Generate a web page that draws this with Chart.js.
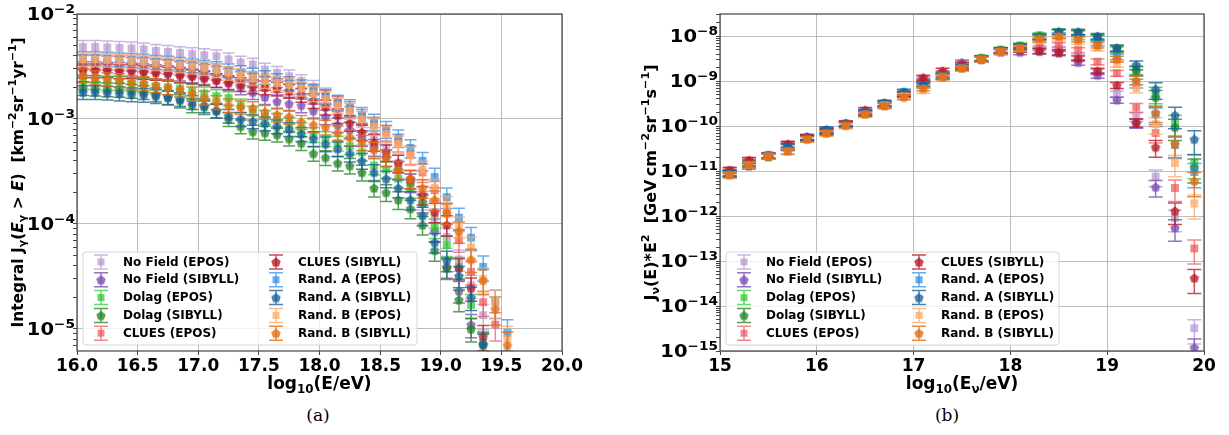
<!DOCTYPE html>
<html lang="en">
  <head>
    <meta charset="UTF-8" />
    <title>Integral photon flux and neutrino spectrum</title>
    <script src="https://cdn.jsdelivr.net/npm/chart.js"></script>
    <style>
      body { margin: 0; background: #fff; width: 1229px; height: 435px; position: relative; overflow: hidden; }
      #leftBox { position: absolute; left: 0; top: 0; width: 600px; height: 400px; }
      #rightBox { position: absolute; left: 620px; top: 0; width: 609px; height: 400px; }
      .caption { position: absolute; top: 405px; width: 60px; text-align: center;
        font-family: "DejaVu Serif", "Liberation Serif", serif; font-size: 17px; color: #000; }
    </style>
  </head>

  <body>
    <div id="leftBox"><canvas id="integralChart" width="600" height="400"></canvas></div>
    <div id="rightBox"><canvas id="nuChart" width="609" height="400"></canvas></div>
    <div class="caption" style="left: 288px">(a)</div>
    <div class="caption" style="left: 917px">(b)</div>

    <script>
      // ---- series names / styles ----
      const names = [
        "No Field (EPOS)", "No Field (SIBYLL)", "Dolag (EPOS)", "Dolag (SIBYLL)", "CLUES (EPOS)",
        "CLUES (SIBYLL)", "Rand. A (EPOS)", "Rand. A (SIBYLL)", "Rand. B (EPOS)", "Rand. B (SIBYLL)",
      ];
      const markers = ["square", "pentagon", "square", "pentagon", "square", "pentagon", "square", "pentagon", "square", "pentagon"];
      const colors = [
        "rgba(180,150,210,0.7)", "rgba(128,80,180,0.8)", "rgba(40,200,40,0.7)", "rgba(30,130,30,0.75)",
        "rgba(235,85,90,0.7)", "rgba(185,25,40,0.78)", "rgba(40,140,225,0.7)", "rgba(25,95,155,0.78)",
        "rgba(255,170,100,0.75)", "rgba(225,110,20,0.8)",
      ];

      // ---- (a) integral photon flux, km^-2 sr^-1 yr^-1 ----
      const logEInt = [16.05, 16.15, 16.25, 16.35, 16.45, 16.55, 16.65, 16.75, 16.85, 16.95, 17.05, 17.15,
        17.25, 17.35, 17.45, 17.55, 17.65, 17.75, 17.85, 17.95, 18.05, 18.15, 18.25, 18.35,
        18.45, 18.55, 18.65, 18.75, 18.85, 18.95, 19.05, 19.15, 19.25, 19.35, 19.45, 19.55];
      const intNoFieldEpos = [4.85e-3, 4.85e-3, 4.8e-3, 4.75e-3, 4.7e-3, 4.6e-3, 4.45e-3, 4.35e-3, 4.25e-3, 4.15e-3, 4.05e-3, 3.95e-3,
        3.7e-3, 3.45e-3, 3.3e-3, 2.95e-3, 2.75e-3, 2.55e-3, 2.3e-3, 2.0e-3, 1.7e-3, 1.4e-3, 1.12e-3, 9.0e-4,
        7.0e-4, 5.3e-4, 3.8e-4, 2.5e-4, 1.7e-4, 1.15e-4, 7.5e-5, 4.6e-5, 2.6e-5, 1.35e-5, null, null];
      const intNoFieldSib = [3.05e-3, 3.05e-3, 3.0e-3, 3.0e-3, 2.95e-3, 2.9e-3, 2.85e-3, 2.8e-3, 2.7e-3, 2.6e-3, 2.5e-3, 2.35e-3,
        2.2e-3, 2.0e-3, 1.8e-3, 1.62e-3, 1.47e-3, 1.4e-3, 1.35e-3, 1.2e-3, 1.05e-3, 8.8e-4, 7.9e-4, 6.6e-4,
        5.4e-4, 4.3e-4, 3.3e-4, 2.5e-4, 1.6e-4, 8.5e-5, 3.9e-5, 2.3e-5, 1.1e-5, null, null, null];
      const intDolagEpos = [2.25e-3, 2.25e-3, 2.2e-3, 2.2e-3, 2.15e-3, 2.1e-3, 2.05e-3, 2.0e-3, 1.95e-3, 1.85e-3, 1.75e-3, 1.65e-3,
        1.58e-3, 1.35e-3, 1.15e-3, 1.05e-3, 9.8e-4, 9.0e-4, 8.0e-4, 7.1e-4, 6.5e-4, 5.9e-4, 5.5e-4, 4.8e-4,
        3.6e-4, 3.3e-4, 2.7e-4, 2.2e-4, 1.55e-4, 9.2e-5, 6.3e-5, 3.9e-5, 1.7e-5, 7.4e-6, null, null];
      const intDolagSib = [1.97e-3, 1.95e-3, 1.92e-3, 1.9e-3, 1.85e-3, 1.8e-3, 1.72e-3, 1.62e-3, 1.5e-3, 1.35e-3, 1.3e-3, 1.2e-3,
        1.0e-3, 8.5e-4, 7.6e-4, 7.4e-4, 7.1e-4, 6.5e-4, 5.9e-4, 4.7e-4, 4.3e-4, 3.8e-4, 3.6e-4, 3.1e-4,
        2.2e-4, 2.0e-4, 1.7e-4, 1.4e-4, 9.8e-5, 5.6e-5, 3.8e-5, 1.9e-5, 1.0e-5, 7.0e-6, null, null];
      const intCluesEpos = [3.5e-3, 3.5e-3, 3.45e-3, 3.4e-3, 3.35e-3, 3.3e-3, 3.2e-3, 3.15e-3, 3.05e-3, 2.95e-3, 2.85e-3, 2.75e-3,
        2.6e-3, 2.45e-3, 2.35e-3, 2.2e-3, 2.1e-3, 2.0e-3, 1.9e-3, 1.78e-3, 1.62e-3, 1.42e-3, 1.25e-3, 1.05e-3,
        8.8e-4, 7.4e-4, 6.0e-4, 4.6e-4, 3.1e-4, 2.1e-4, 1.3e-4, 7.0e-5, 3.5e-5, 1.8e-5, 1.1e-5, null];
      const intCluesSib = [2.9e-3, 2.9e-3, 2.9e-3, 2.85e-3, 2.85e-3, 2.8e-3, 2.75e-3, 2.7e-3, 2.6e-3, 2.55e-3, 2.45e-3, 2.35e-3,
        2.25e-3, 2.15e-3, 2.05e-3, 2.0e-3, 1.95e-3, 1.85e-3, 1.7e-3, 1.5e-3, 1.3e-3, 1.08e-3, 9.2e-4, 7.5e-4,
        6.0e-4, 4.8e-4, 3.8e-4, 2.7e-4, 1.9e-4, 1.3e-4, 9.8e-5, 3.8e-5, 2.45e-5, 8.5e-6, null, null];
      const intRandAEpos = [3.8e-3, 3.8e-3, 3.75e-3, 3.7e-3, 3.65e-3, 3.6e-3, 3.5e-3, 3.45e-3, 3.35e-3, 3.25e-3, 3.15e-3, 3.05e-3,
        2.9e-3, 2.8e-3, 2.65e-3, 2.5e-3, 2.35e-3, 2.2e-3, 2.05e-3, 1.85e-3, 1.65e-3, 1.45e-3, 1.3e-3, 1.1e-3,
        9.4e-4, 8.0e-4, 6.6e-4, 5.3e-4, 4.0e-4, 2.8e-4, 1.8e-4, 1.15e-4, 7.4e-5, 3.9e-5, 1.8e-5, 9.2e-6];
      const intRandASib = [1.8e-3, 1.8e-3, 1.78e-3, 1.75e-3, 1.72e-3, 1.7e-3, 1.65e-3, 1.6e-3, 1.55e-3, 1.45e-3, 1.35e-3, 1.2e-3,
        1.07e-3, 1.0e-3, 9.5e-4, 9.1e-4, 8.5e-4, 8.0e-4, 7.2e-4, 6.5e-4, 5.8e-4, 5.2e-4, 4.7e-4, 4.0e-4,
        3.1e-4, 2.7e-4, 2.2e-4, 1.7e-4, 1.2e-4, 6.7e-5, 4.5e-5, 3.2e-5, 2.0e-5, 7.2e-6, null, null];
      const intRandBEpos = [3.7e-3, 3.7e-3, 3.65e-3, 3.6e-3, 3.55e-3, 3.5e-3, 3.4e-3, 3.35e-3, 3.25e-3, 3.15e-3, 3.05e-3, 2.9e-3,
        2.75e-3, 2.6e-3, 2.45e-3, 2.3e-3, 2.2e-3, 2.1e-3, 1.95e-3, 1.75e-3, 1.55e-3, 1.35e-3, 1.2e-3, 1.0e-3,
        8.5e-4, 7.2e-4, 5.8e-4, 4.5e-4, 3.3e-4, 2.2e-4, 1.5e-4, 9.5e-5, 6.0e-5, 3.0e-5, 1.8e-5, 8.0e-6];
      const intRandBSib = [2.6e-3, 2.5e-3, 2.4e-3, 2.35e-3, 2.25e-3, 2.2e-3, 2.1e-3, 2.0e-3, 1.9e-3, 1.75e-3, 1.6e-3, 1.45e-3,
        1.35e-3, 1.3e-3, 1.27e-3, 1.17e-3, 1.1e-3, 1.05e-3, 9.4e-4, 8.8e-4, 8.4e-4, 7.4e-4, 6.7e-4, 6.0e-4,
        5.1e-4, 4.3e-4, 3.3e-4, 2.7e-4, 2.2e-4, 1.7e-4, 1.27e-4, 8.5e-5, 4.6e-5, 2.9e-5, 1.55e-5, 7.0e-6];
      // relative error per energy bin
      const intErr = [0.15, 0.15, 0.15, 0.15, 0.15, 0.15, 0.15, 0.15, 0.15, 0.15, 0.15, 0.15,
        0.15, 0.15, 0.15, 0.15, 0.15, 0.15, 0.15, 0.16, 0.16, 0.16, 0.17, 0.17,
        0.18, 0.18, 0.19, 0.2, 0.2, 0.21, 0.22, 0.23, 0.25, 0.27, 0.3, 0.33];

      // ---- (b) neutrino flux * E^2, GeV cm^-2 sr^-1 s^-1 ----
      const logENu = [15.1, 15.3, 15.5, 15.7, 15.9, 16.1, 16.3, 16.5, 16.7, 16.9, 17.1, 17.3, 17.5,
        17.7, 17.9, 18.1, 18.3, 18.5, 18.7, 18.9, 19.1, 19.3, 19.5, 19.7, 19.9];
      const nuNoFieldEpos = [9.5e-12, 1.5e-11, 2.2e-11, 3.3e-11, 5.6e-11, 7.5e-11, 1.1e-10, 2.0e-10, 3.0e-10, 5.0e-10, 9.5e-10, 1.4e-9, 2.4e-9,
        3.1e-9, 4.6e-9, 5.0e-9, 5.4e-9, 5.2e-9, 3.4e-9, 1.6e-9, 5.2e-10, 1.6e-10, 7.5e-12, 9.0e-13, 3.2e-15];
      const nuNoFieldSib = [9.3e-12, 1.55e-11, 2.2e-11, 3.5e-11, 5.8e-11, 7.3e-11, 1.15e-10, 2.1e-10, 3.1e-10, 5.1e-10, 1.0e-9, 1.45e-9, 2.6e-9,
        3.0e-9, 4.4e-9, 4.4e-9, 4.6e-9, 4.2e-9, 2.6e-9, 1.35e-9, 3.8e-10, 1.15e-10, 4.4e-12, 5.5e-13, 1.2e-15];
      const nuDolagEpos = [8.5e-12, 1.4e-11, 2.1e-11, 3.6e-11, 5.3e-11, 7.7e-11, 1.1e-10, 1.9e-10, 3.0e-10, 5.0e-10, 8.5e-10, 1.3e-9, 2.0e-9,
        3.3e-9, 5.0e-9, 6.2e-9, 1.05e-8, 1.2e-8, 1.15e-8, 9.0e-9, 5.0e-9, 1.8e-9, 5.2e-10, 1.15e-10, 1.5e-11];
      const nuDolagSib = [8.8e-12, 1.45e-11, 2.15e-11, 3.9e-11, 5.5e-11, 7.6e-11, 1.05e-10, 1.9e-10, 3.1e-10, 5.2e-10, 8.8e-10, 1.35e-9, 2.1e-9,
        3.2e-9, 4.8e-9, 6.0e-9, 1.0e-8, 1.25e-8, 1.2e-8, 9.5e-9, 5.3e-9, 1.7e-9, 4.4e-10, 9.5e-11, 1.2e-11];
      const nuCluesEpos = [1.05e-11, 1.7e-11, 2.3e-11, 3.7e-11, 5.6e-11, 8.0e-11, 1.15e-10, 2.1e-10, 2.9e-10, 4.9e-10, 1.1e-9, 1.5e-9, 2.2e-9,
        3.1e-9, 4.8e-9, 5.6e-9, 6.5e-9, 6.3e-9, 4.9e-9, 2.7e-9, 1.5e-9, 2.6e-10, 7.0e-11, 4.2e-12, 1.9e-13];
      const nuCluesSib = [1.05e-11, 1.75e-11, 2.25e-11, 4.0e-11, 5.7e-11, 7.8e-11, 1.15e-10, 2.3e-10, 3.0e-10, 5.2e-10, 1.2e-9, 1.7e-9, 2.3e-9,
        3.2e-9, 4.8e-9, 5.0e-9, 4.7e-9, 4.4e-9, 3.2e-9, 1.7e-9, 8.1e-10, 1.2e-10, 3.4e-11, 1.3e-12, 4.2e-14];
      const nuRandAEpos = [8.8e-12, 1.35e-11, 2.2e-11, 3.4e-11, 5.3e-11, 8.2e-11, 1.1e-10, 2.0e-10, 3.2e-10, 5.6e-10, 8.0e-10, 1.3e-9, 2.0e-9,
        3.0e-9, 4.7e-9, 5.8e-9, 9.5e-9, 1.05e-8, 9.5e-9, 7.0e-9, 3.5e-9, 9.0e-10, 1.8e-10, 3.8e-11, 9.5e-12];
      const nuRandASib = [9.0e-12, 1.3e-11, 2.1e-11, 3.5e-11, 5.4e-11, 8.4e-11, 1.1e-10, 2.0e-10, 3.3e-10, 5.8e-10, 8.2e-10, 1.25e-9, 2.0e-9,
        3.1e-9, 4.8e-9, 5.9e-9, 9.5e-9, 1.25e-8, 1.25e-8, 1.0e-8, 5.5e-9, 2.3e-9, 6.6e-10, 1.75e-10, 5.1e-11];
      const nuRandBEpos = [8.0e-12, 1.35e-11, 2.1e-11, 2.7e-11, 5.0e-11, 6.8e-11, 1.0e-10, 1.8e-10, 2.9e-10, 4.6e-10, 6.2e-10, 1.2e-9, 1.9e-9,
        3.0e-9, 4.5e-9, 5.3e-9, 8.0e-9, 9.0e-9, 7.5e-9, 5.5e-9, 2.4e-9, 7.0e-10, 1.1e-10, 1.5e-11, 1.9e-12];
      const nuRandBSib = [8.3e-12, 1.4e-11, 2.15e-11, 2.8e-11, 5.1e-11, 7.0e-11, 1.05e-10, 1.85e-10, 2.8e-10, 4.4e-10, 7.0e-10, 1.25e-9, 1.95e-9,
        3.1e-9, 4.6e-9, 5.5e-9, 9.0e-9, 1.0e-8, 8.5e-9, 6.3e-9, 3.1e-9, 1.05e-9, 2.0e-10, 4.0e-11, 6.0e-12];
      const nuErr = [0.15, 0.15, 0.13, 0.15, 0.13, 0.13, 0.13, 0.13, 0.13, 0.13, 0.13, 0.13, 0.13,
        0.13, 0.13, 0.13, 0.13, 0.13, 0.13, 0.14, 0.15, 0.22, 0.4, 0.5, 0.55];

      const intSeries = [intNoFieldEpos, intNoFieldSib, intDolagEpos, intDolagSib, intCluesEpos,
        intCluesSib, intRandAEpos, intRandASib, intRandBEpos, intRandBSib];
      const nuSeries = [nuNoFieldEpos, nuNoFieldSib, nuDolagEpos, nuDolagSib, nuCluesEpos,
        nuCluesSib, nuRandAEpos, nuRandASib, nuRandBEpos, nuRandBSib];

      const FONT = '"DejaVu Sans", sans-serif';
      const gridColor = "rgba(176,176,176,0.85)";
      const spineColor = "#444";

      // pentagon marker drawn once per colour
      function pentagon(color, r) {
        const c = document.createElement("canvas");
        const s = Math.ceil(r * 2 + 2);
        c.width = s;
        c.height = s;
        const g = c.getContext("2d");
        g.fillStyle = color;
        g.beginPath();
        for (let k = 0; k < 5; k++) {
          const a = -Math.PI / 2 + (k * 2 * Math.PI) / 5;
          g.lineTo(s / 2 + r * Math.cos(a), s / 2 + r * Math.sin(a) + r * 0.1);
        }
        g.closePath();
        g.fill();
        return c;
      }
      const pentImgs = colors.map((c) => pentagon(c, 5));

      function makeSets(xs, series, err) {
        return series.map((vals, i) => {
          const pts = [], lo = [], hi = [];
          vals.forEach((v, j) => {
            if (v == null) return;
            pts.push({ x: xs[j], y: v });
            lo.push(v * (1 - err[j]));
            hi.push(v * (1 + err[j]));
          });
          return {
            label: names[i],
            data: pts,
            errLo: lo,
            errHi: hi,
            order: 10 - i,
            backgroundColor: colors[i],
            borderColor: colors[i],
            borderWidth: 0,
            pointStyle: markers[i] === "square" ? "rect" : pentImgs[i],
            pointRadius: 5.6,
          };
        });
      }

      function logTicks(min, max) {
        const out = [];
        for (let e = Math.floor(Math.log10(min)); e <= Math.ceil(Math.log10(max)); e++) {
          for (let m = 1; m < 10; m++) {
            const v = m * Math.pow(10, e);
            if (v >= min * 0.999 && v <= max * 1.001) out.push({ value: v, major: m === 1 });
          }
        }
        return out;
      }

      function fontFor(k, size) {
        const small = k === "sup" || k === "sub";
        return (k === "it" ? "italic " : "") + "bold " + (small ? size * 0.7 : size) + "px " + FONT;
      }
      function richWidth(ctx, parts, size) {
        let w = 0;
        for (const [t, k] of parts) {
          ctx.font = fontFor(k, size);
          w += ctx.measureText(t).width;
        }
        return w;
      }
      function richDraw(ctx, parts, x, y, size) {
        let cx = x;
        for (const [t, k] of parts) {
          ctx.font = fontFor(k, size);
          const dy = k === "sup" ? -size * 0.42 : k === "sub" ? size * 0.22 : 0;
          ctx.fillText(t, cx, y + dy);
          cx += ctx.measureText(t).width;
        }
      }

      // error bars drawn just under each dataset's markers
      const errorBars = {
        id: "errorBars",
        beforeDatasetDraw(chart, args) {
          const ds = chart.data.datasets[args.index];
          const xs = chart.scales.x, ys = chart.scales.y, a = chart.chartArea;
          const cap = chart.options.plugins.decor.cap;
          const ctx = chart.ctx;
          ctx.save();
          ctx.beginPath();
          ctx.rect(a.left, a.top, a.right - a.left, a.bottom - a.top);
          ctx.clip();
          ctx.strokeStyle = ds.borderColor;
          ctx.lineWidth = 1.5;
          ds.data.forEach((p, j) => {
            const x = xs.getPixelForValue(p.x);
            const y1 = ys.getPixelForValue(ds.errLo[j]);
            const y2 = ys.getPixelForValue(ds.errHi[j]);
            ctx.beginPath();
            ctx.moveTo(x, y1); ctx.lineTo(x, y2);
            ctx.moveTo(x - cap, y1); ctx.lineTo(x + cap, y1);
            ctx.moveTo(x - cap, y2); ctx.lineTo(x + cap, y2);
            ctx.stroke();
          });
          ctx.restore();
        },
      };

      // frame, rich-text labels and the two-column legend
      const decor = {
        id: "decor",
        afterDraw(chart) {
          const o = chart.options.plugins.decor;
          const ctx = chart.ctx, a = chart.chartArea;
          ctx.save();
          ctx.strokeStyle = spineColor;
          ctx.lineWidth = 1.2;
          ctx.strokeRect(a.left, a.top, a.right - a.left, a.bottom - a.top);

          ctx.fillStyle = "#000";
          ctx.textAlign = "left";
          ctx.textBaseline = "alphabetic";

          // y tick labels 10^n
          const ys = chart.scales.y;
          ys.ticks.forEach((t) => {
            if (!t.major) return;
            const n = Math.round(Math.log10(t.value));
            const parts = [["10", ""], ["\u2212" + Math.abs(n), "sup"]];
            const w = richWidth(ctx, parts, o.tickSize);
            const y = ys.getPixelForValue(t.value);
            ctx.save();
            ctx.translate(a.left - 2, y + o.tickSize * 0.36);
            ctx.scale(o.stretch, 1);
            richDraw(ctx, parts, -w, 0, o.tickSize);
            ctx.restore();
          });

          // x title
          const xw = richWidth(ctx, o.xTitle, 17);
          richDraw(ctx, o.xTitle, (a.left + a.right) / 2 - xw / 2, 389, 17);

          // y title (rotated)
          const yw = richWidth(ctx, o.yTitle, o.yTitleSize);
          ctx.save();
          ctx.translate(o.yTitleX, (a.top + a.bottom) / 2);
          ctx.rotate(-Math.PI / 2);
          richDraw(ctx, o.yTitle, -yw / 2, o.yTitleSize * 0.36, o.yTitleSize);
          ctx.restore();

          // legend
          const b = o.legend;
          ctx.fillStyle = "rgba(255,255,255,0.8)";
          ctx.strokeStyle = "#d6d6d6";
          ctx.lineWidth = 1;
          ctx.beginPath();
          ctx.roundRect(b.x, b.y, b.w, b.h, 3);
          ctx.fill();
          ctx.stroke();
          chart.data.datasets.forEach((ds, i) => {
            const col = Math.floor(i / 5), row = i % 5;
            const cx = b.x + 18 + col * 175;
            const cy = b.y + 10 + row * 17.8;
            ctx.strokeStyle = ds.borderColor;
            ctx.lineWidth = 1.5;
            ctx.beginPath();
            ctx.moveTo(cx, cy - 7); ctx.lineTo(cx, cy + 7);
            ctx.moveTo(cx - 7, cy - 7); ctx.lineTo(cx + 7, cy - 7);
            ctx.moveTo(cx - 7, cy + 7); ctx.lineTo(cx + 7, cy + 7);
            ctx.stroke();
            if (markers[i] === "square") {
              ctx.fillStyle = ds.backgroundColor;
              ctx.fillRect(cx - 3.5, cy - 3.5, 7, 7);
            } else {
              const img = pentImgs[i];
              ctx.drawImage(img, cx - img.width / 2, cy - img.height / 2);
            }
            ctx.fillStyle = "#000";
            ctx.font = "bold 12px " + FONT;
            ctx.textBaseline = "middle";
            ctx.fillText(ds.label, b.x + 40 + col * 175, cy + 0.5);
            ctx.textBaseline = "alphabetic";
          });
          ctx.restore();
        },
      };

      function makeChart(canvasId, cfg) {
        return new Chart(document.getElementById(canvasId), {
          type: "scatter",
          data: { datasets: cfg.datasets },
          options: {
            responsive: false,
            animation: false,
            events: [],
            layout: { padding: { left: 0, right: cfg.padRight, top: 14, bottom: 0 } },
            plugins: { legend: { display: false }, tooltip: { enabled: false }, decor: cfg.decor },
            scales: {
              x: {
                type: "linear",
                min: cfg.xMin,
                max: cfg.xMax,
                ticks: {
                  stepSize: cfg.xStep,
                  callback: cfg.xLabel,
                  color: "#000",
                  padding: 1,
                  font: { family: FONT, weight: "bold", size: 17 },
                },
                grid: { color: gridColor, tickColor: spineColor, tickLength: 4, lineWidth: 1 },
                border: { display: false },
                afterFit: (s) => { s.height = 49; },
              },
              y: {
                type: "logarithmic",
                min: cfg.yMin,
                max: cfg.yMax,
                afterBuildTicks: (s) => { s.ticks = logTicks(cfg.yMin, cfg.yMax); },
                ticks: { autoSkip: false, callback: () => "" },
                grid: {
                  color: (c) => (c.tick && c.tick.major ? gridColor : "rgba(0,0,0,0)"),
                  tickColor: spineColor,
                  tickLength: 4,
                  lineWidth: 1,
                },
                border: { display: false },
                afterFit: (s) => { s.width = cfg.yWidth; },
              },
            },
          },
          plugins: [errorBars, decor],
        });
      }

      makeChart("integralChart", {
        datasets: makeSets(logEInt, intSeries, intErr),
        padRight: 38,
        yWidth: 77,
        xMin: 16, xMax: 20, xStep: 0.5,
        xLabel: (v) => v.toFixed(1),
        yMin: 6.17e-6, yMax: 1e-2,
        decor: {
          cap: 6,
          tickSize: 17,
          stretch: 1.15,
          xTitle: [["log", ""], ["10", "sub"], ["(E/eV)", ""]],
          yTitle: [["Integral J", ""], ["\u03b3", "sub"], ["(", ""], ["E", "it"], ["\u03b3", "sub"],
            [" > ", ""], ["E", "it"], [")  [km", ""], ["\u22122", "sup"], ["sr", ""], ["\u22121", "sup"],
            ["yr", ""], ["\u22121", "sup"], ["]", ""]],
          yTitleSize: 15.5,
          yTitleX: 17,
          legend: { x: 83, y: 252, w: 334, h: 93 },
        },
      });

      makeChart("nuChart", {
        datasets: makeSets(logENu, nuSeries, nuErr),
        padRight: 25,
        yWidth: 100,
        xMin: 15, xMax: 20, xStep: 1,
        xLabel: (v) => String(v),
        yMin: 1e-15, yMax: 3.1e-8,
        decor: {
          cap: 7,
          tickSize: 17,
          stretch: 1.15,
          xTitle: [["log", ""], ["10", "sub"], ["(E", ""], ["\u03bd", "sub"], ["/eV)", ""]],
          yTitle: [["J", ""], ["\u03bd", "sub"], ["(E)*E", ""], ["2", "sup"], ["  [GeV\u2009cm", ""],
            ["\u22122", "sup"], ["sr", ""], ["\u22121", "sup"], ["s", ""], ["\u22121", "sup"], ["]", ""]],
          yTitleSize: 16,
          yTitleX: 30,
          legend: { x: 106, y: 252, w: 333, h: 93 },
        },
      });
    </script>
  </body>
</html>
